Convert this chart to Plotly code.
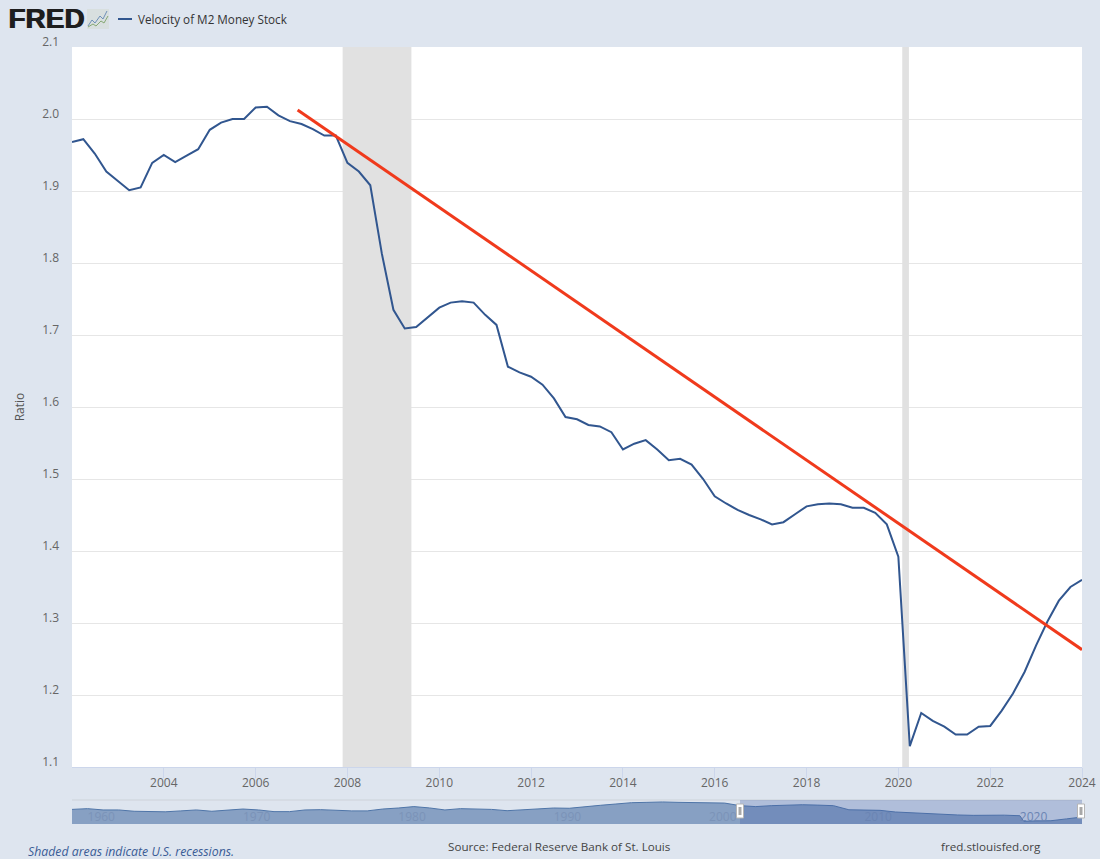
"""FRED chart: Velocity of M2 Money Stock, with hand drawn trend line and range navigator."""

import pandas as pd
import plotly.graph_objects as go

WIDTH = 1100
HEIGHT = 859

# quarterly M2 velocity, 2002 Q1 - 2024 Q1
m2v_dates = pd.date_range("2002-01-01", "2024-01-01", freq="QS").strftime("%Y-%m-%d").tolist()
m2v_values = [
    1.968, 1.972, 1.952, 1.927, 1.914, 1.901, 1.905, 1.939, 1.950, 1.940, 1.949, 1.958,
    1.985, 1.995, 2.000, 2.000, 2.016, 2.017, 2.005, 1.997, 1.993, 1.986, 1.977, 1.977,
    1.939, 1.927, 1.908, 1.813, 1.735, 1.709, 1.711, 1.725, 1.738, 1.745, 1.747, 1.745,
    1.728, 1.714, 1.656, 1.648, 1.642, 1.631, 1.612, 1.586, 1.583, 1.575, 1.573, 1.565,
    1.541, 1.549, 1.554, 1.541, 1.526, 1.528, 1.520, 1.500, 1.476, 1.466, 1.457, 1.450,
    1.444, 1.437, 1.440, 1.451, 1.462, 1.465, 1.466, 1.465, 1.460, 1.460, 1.453, 1.437,
    1.392, 1.129, 1.175, 1.164, 1.156, 1.145, 1.145, 1.156, 1.157, 1.178, 1.202, 1.232,
    1.269, 1.302, 1.331, 1.350, 1.360,
]
x_ticks = ["2004-01-01", "2006-01-01", "2008-01-01", "2010-01-01", "2012-01-01", "2014-01-01",
           "2016-01-01", "2018-01-01", "2020-01-01", "2022-01-01", "2024-01-01"]

# hand drawn red trend line
trend_dates = ["2006-12-01", "2024-01-01"]
trend_values = [2.0125, 1.263]

# recessions, as shaded in the picture
recession_starts = ["2007-11-24", "2020-02-01"]
recession_ends = ["2009-05-24", "2020-03-25"]

# navigator series, full history
nav_years = [
    1959, 1960, 1961, 1962, 1963, 1964, 1965, 1966, 1967, 1968, 1969, 1970, 1971, 1972, 1973, 1974,
    1975, 1976, 1977, 1978, 1979, 1980, 1981, 1982, 1983, 1984, 1985, 1986, 1987, 1988, 1989, 1990,
    1991, 1992, 1993, 1994, 1995, 1996, 1997, 1998, 1999, 2000, 2001, 2002, 2003, 2004, 2005, 2006,
    2007, 2008, 2009, 2010, 2011, 2012, 2013, 2014, 2015, 2016, 2017, 2018, 2019, 2020, 2020.25,
    2021, 2022, 2023, 2024,
]
nav_values = [
    1.77, 1.81, 1.74, 1.74, 1.67, 1.65, 1.64, 1.69, 1.74, 1.67, 1.74, 1.79, 1.74, 1.65, 1.65, 1.74,
    1.755, 1.72, 1.69, 1.69, 1.79, 1.845, 1.92, 1.85, 1.74, 1.81, 1.81, 1.77, 1.70, 1.75, 1.83, 1.845,
    1.83, 1.92, 1.99, 2.06, 2.13, 2.15, 2.17, 2.15, 2.13, 2.15, 2.11, 1.97, 1.92, 1.97, 2.00, 2.02,
    2.00, 1.97, 1.75, 1.74, 1.72, 1.63, 1.58, 1.56, 1.52, 1.47, 1.45, 1.46, 1.46, 1.43, 1.13,
    1.15, 1.16, 1.26, 1.36,
]
nav_ticks = [1960, 1970, 1980, 1990, 2000, 2010, 2020]

PAGE_BG = "#dee5ef"
LINE_BLUE = "#31568f"
FONT = "Open Sans"

# logo icon polylines, in page pixels
icon_blue = [(88, 26), (92, 20), (95, 23), (100, 16), (103, 19), (107, 11)]
icon_green = [(88, 27), (93, 24), (96, 26), (101, 21), (104, 23), (108, 16)]


def px(x):
    return x / WIDTH


def py(y):
    return 1 - y / HEIGHT


def svg_path(points):
    return "M" + "L".join(f"{px(x):.5f},{py(y):.5f}" for x, y in points)


fig = go.Figure()

fig.add_trace(
    go.Scatter(
        x=m2v_dates,
        y=m2v_values,
        mode="lines",
        name="Velocity of M2 Money Stock",
        line=dict(color=LINE_BLUE, width=2),
    )
)
fig.add_trace(
    go.Scatter(x=trend_dates, y=trend_values, mode="lines", line=dict(color="#f03a1c", width=3))
)
fig.add_trace(
    go.Scatter(
        x=nav_years,
        y=nav_values,
        mode="lines",
        xaxis="x2",
        yaxis="y2",
        fill="tozeroy",
        fillcolor="#87a0c3",
        line=dict(color="#4f75a8", width=1),
    )
)

shapes = [
    # white panel of the main chart
    dict(type="rect", xref="paper", yref="paper", x0=px(72), x1=px(1082), y0=py(767), y1=py(47),
         fillcolor="#ffffff", line_width=0, layer="below"),
]
for start, end in zip(recession_starts, recession_ends):
    shapes.append(
        dict(
            type="rect", xref="x", yref="y", x0=start, x1=end, y0=1.1, y1=2.1,
            fillcolor="#e1e1e1", line_width=0, layer="between",
        )
    )

# navigator: top rule, selected window mask, handles
shapes.append(
    dict(type="line", xref="paper", yref="paper", x0=px(72), x1=px(1082), y0=py(800), y1=py(800),
         line=dict(color="#cdd2d9", width=1))
)
shapes.append(
    dict(type="rect", xref="paper", yref="paper", x0=px(740), x1=px(1082), y0=py(800), y1=py(824),
         fillcolor="rgba(70,100,170,0.3)", line_width=0)
)
for hx in (740, 1081):
    shapes.append(
        dict(type="rect", xref="paper", yref="paper", x0=px(hx - 3.5), x1=px(hx + 3.5), y0=py(804), y1=py(818),
             fillcolor="#ffffff", line=dict(color="#b5b5b5", width=1))
    )
    shapes.append(
        dict(type="rect", xref="paper", yref="paper", x0=px(hx - 1.5), x1=px(hx + 1.5), y0=py(807), y1=py(815),
             fillcolor="#a8a8a8", line_width=0)
    )

# legend swatch and logo icon
shapes.append(
    dict(type="line", xref="paper", yref="paper", x0=px(118), x1=px(132), y0=py(19), y1=py(19),
         line=dict(color=LINE_BLUE, width=2))
)
shapes.append(
    dict(type="rect", xref="paper", yref="paper", x0=px(87), x1=px(109), y0=py(9), y1=py(29),
         fillcolor="#d8dfdf", line_width=0)
)
shapes.append(dict(type="path", xref="paper", yref="paper", path=svg_path(icon_blue), line=dict(color="#6f90b8", width=1)))
shapes.append(dict(type="path", xref="paper", yref="paper", path=svg_path(icon_green), line=dict(color="#86a874", width=1)))

annotations = [
    dict(text="<b>FRED</b>", x=px(6), y=py(19), xanchor="left", yanchor="middle",
         font=dict(family="Liberation Sans", size=28, color="#1e1e1e", shadow="1px 0 0 #1e1e1e")),
    dict(text="Velocity of M2 Money Stock", x=px(136), y=py(19), xanchor="left", yanchor="middle",
         font=dict(size=11.7, color="#333333")),
    dict(text="<i>Shaded areas indicate U.S. recessions.</i>", x=px(26), y=py(851.5), xanchor="left", yanchor="middle",
         font=dict(size=12.3, color="#3a5c96")),
    dict(text="Source: Federal Reserve Bank of St. Louis", x=px(560), y=py(846), xanchor="center", yanchor="middle",
         font=dict(size=11.65, color="#444444")),
    dict(text="fred.stlouisfed.org", x=px(990.5), y=py(846), xanchor="center", yanchor="middle",
         font=dict(size=11.65, color="#444444")),
]
for a in annotations:
    a.update(xref="paper", yref="paper", showarrow=False)

fig.update_layout(
    width=WIDTH,
    height=HEIGHT,
    margin=dict(l=0, r=0, t=0, b=0, autoexpand=False),
    paper_bgcolor=PAGE_BG,
    plot_bgcolor=PAGE_BG,
    showlegend=False,
    font=dict(family=FONT, size=12, color="#666666"),
    shapes=shapes,
    annotations=annotations,
    xaxis=dict(
        domain=[px(72), px(1082)],
        anchor="y",
        automargin=False,
        type="date",
        range=["2002-01-01", "2024-01-01"],
        tickvals=x_ticks,
        tickformat="%Y",
        ticks="outside",
        ticklen=10,
        tickcolor="#ccd6eb",
        ticklabelstandoff=-5,
        showline=True,
        linecolor="#ccd6eb",
        showgrid=False,
        zeroline=False,
    ),
    yaxis=dict(
        domain=[py(767), py(47)],
        anchor="x",
        automargin=False,
        range=[1.1, 2.1],
        tick0=1.1,
        dtick=0.1,
        tickformat=".1f",
        ticks="",
        ticklabelposition="outside top",
        ticklabelstandoff=12,
        ticklabelshift=3,
        gridcolor="#e6e6e6",
        zeroline=False,
        title=dict(text="Ratio", standoff=14, font=dict(size=12, color="#555555")),
    ),
    xaxis2=dict(
        domain=[px(72), px(1082)],
        anchor="y2",
        automargin=False,
        range=[1959, 2024],
        tickvals=nav_ticks,
        ticklabelposition="inside right",
        ticklabelstandoff=-5,
        tickfont=dict(size=12, color="#7b93b8"),
        ticks="",
        showgrid=False,
        zeroline=False,
    ),
    yaxis2=dict(
        domain=[py(824), py(800)],
        anchor="x2",
        automargin=False,
        range=[0.985, 2.275],
        visible=False,
    ),
)

# page body has a default margin that would push the fixed-size figure out of the window
fig.write_html("out.html", config={"displayModeBar": False}, post_script="document.body.style.margin='0';")
